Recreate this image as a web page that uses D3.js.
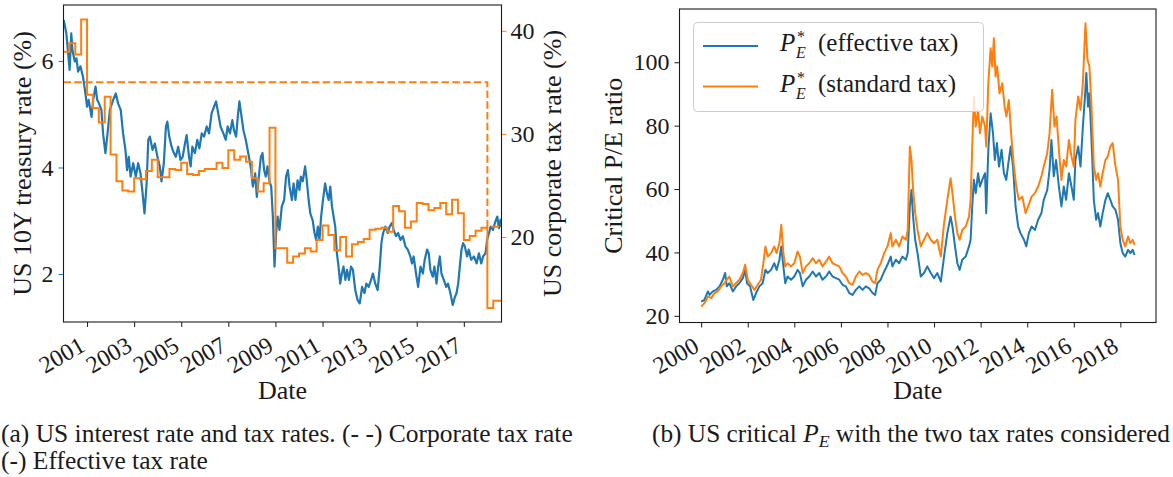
<!DOCTYPE html>
<html>
<head>
<meta charset="utf-8">
<title>US interest rate, tax rates and critical P/E</title>
<script src="https://cdn.jsdelivr.net/npm/d3@7"></script>
<style>
  body { margin: 0; background: #fff; }
  svg text { font-family: "Liberation Serif", "DejaVu Serif", serif; fill: #1a1a1a; }
</style>
</head>
<body>
<svg id="fig" width="1173" height="477"></svg>
<script>
// ---- data (time = years after 2000.0) ----
var leftYears = [2001, 2003, 2005, 2007, 2009, 2011, 2013, 2015, 2017];
var rightYears = [2000, 2002, 2004, 2006, 2008, 2010, 2012, 2014, 2016, 2018];
var rateTicks = [2, 4, 6];
var taxTicks = [20, 30, 40];
var peTicks = [20, 40, 60, 80, 100];

// US 10Y treasury rate (%)
var treasury = [[0.01,6.77],[0.12,6.52],[0.19,6.18],[0.26,5.83],[0.33,6.52],[0.38,6.2],[0.48,5.99],[0.55,6.05],[0.62,5.8],[0.72,5.9],[0.83,5.7],[0.93,5.39],[1.00,5.14],[1.07,5.27],[1.19,4.95],[1.26,5.27],[1.36,5.52],[1.43,5.27],[1.51,5.2],[1.61,5.08],[1.68,4.64],[1.78,4.27],[1.87,4.64],[1.97,5.08],[2.11,5.27],[2.22,5.39],[2.32,5.2],[2.43,5.08],[2.53,4.64],[2.63,4.33],[2.70,3.95],[2.77,4.2],[2.85,3.83],[2.96,4.08],[3.07,3.83],[3.17,4.08],[3.27,3.89],[3.36,3.51],[3.44,3.14],[3.53,3.7],[3.60,4.52],[3.67,4.58],[3.78,4.33],[3.88,4.45],[3.99,4.2],[4.09,4.02],[4.16,3.74],[4.26,4.08],[4.35,4.77],[4.41,4.86],[4.49,4.58],[4.59,4.39],[4.66,4.3],[4.77,4.2],[4.87,4.39],[4.97,4.14],[5.06,4.2],[5.16,4.45],[5.23,4.61],[5.33,4.2],[5.40,4.02],[5.47,4.39],[5.58,4.27],[5.68,4.52],[5.77,4.36],[5.87,4.64],[5.97,4.58],[6.08,4.77],[6.18,4.64],[6.29,5.02],[6.39,5.14],[6.48,5.24],[6.58,4.99],[6.67,4.77],[6.79,4.64],[6.89,4.52],[6.97,4.77],[7.07,4.64],[7.17,4.89],[7.24,4.7],[7.33,4.58],[7.40,4.95],[7.47,5.24],[7.54,5.02],[7.64,4.7],[7.74,4.52],[7.82,4.33],[7.90,4.14],[7.97,3.95],[8.04,3.64],[8.14,3.89],[8.21,3.45],[8.28,3.76],[8.38,4.2],[8.45,4.27],[8.52,3.95],[8.59,3.83],[8.66,4.02],[8.75,3.74],[8.82,3.64],[8.89,3.08],[8.96,2.14],[9.03,2.77],[9.09,3.08],[9.17,2.83],[9.27,3.27],[9.37,3.39],[9.45,3.83],[9.53,3.95],[9.60,3.64],[9.70,3.39],[9.77,3.7],[9.85,3.39],[9.94,3.76],[10.02,3.58],[10.08,3.83],[10.16,3.74],[10.26,4.02],[10.33,3.76],[10.41,3.39],[10.48,3.14],[10.58,3.01],[10.66,2.77],[10.73,2.64],[10.80,2.89],[10.87,2.64],[10.94,3.08],[11.02,3.39],[11.11,3.7],[11.19,3.51],[11.26,3.39],[11.33,3.64],[11.40,3.27],[11.47,3.08],[11.54,2.89],[11.61,2.39],[11.68,2.14],[11.75,1.82],[11.82,2.01],[11.89,2.14],[11.97,1.89],[12.04,2.08],[12.12,1.89],[12.21,2.14],[12.29,2.08],[12.39,1.70],[12.49,1.51],[12.58,1.45],[12.68,1.76],[12.78,1.64],[12.86,1.82],[12.96,1.76],[13.06,1.89],[13.14,2.01],[13.24,1.82],[13.34,1.70],[13.43,2.14],[13.50,2.58],[13.57,2.77],[13.67,2.89],[13.77,2.77],[13.85,2.89],[13.95,2.96],[14.02,2.83],[14.12,2.71],[14.21,2.77],[14.31,2.64],[14.41,2.71],[14.52,2.52],[14.62,2.46],[14.73,2.33],[14.80,2.2],[14.87,2.33],[14.97,2.01],[15.06,1.76],[15.16,2.14],[15.26,2.01],[15.34,2.27],[15.44,2.46],[15.51,2.39],[15.58,2.08],[15.68,1.95],[15.75,2.14],[15.84,1.82],[15.91,2.14],[15.98,2.33],[16.05,2.01],[16.15,1.89],[16.25,1.76],[16.33,1.82],[16.43,1.64],[16.53,1.42],[16.62,1.57],[16.69,1.64],[16.76,1.82],[16.83,2.14],[16.90,2.46],[16.97,2.58],[17.04,2.52],[17.14,2.33],[17.21,2.46],[17.31,2.27],[17.43,2.33],[17.54,2.2],[17.64,2.39],[17.74,2.2],[17.82,2.33],[17.92,2.39],[17.99,2.64],[18.07,2.77],[18.14,2.89],[18.24,2.83],[18.32,2.96],[18.42,3.08],[18.49,2.86],[18.56,3.02],[18.60,2.89]];

// effective tax rate (%), one value per quarter from 2000 Q1
var effectiveTax = [37.96, 38.8, 37.7, 41.1,  33.8, 32.5, 31.1, 33.6,  28.0, 25.4, 24.5, 24.4,
  25.7, 25.6, 26.4, 27.5,  25.8, 25.8, 26.6, 26.5,  27.2, 26.1, 26.0, 26.4,  26.6, 26.6, 27.2, 26.7,
  28.4, 27.5, 27.8, 27.3,  25.7, 24.4, 25.2, 30.6,  18.9, 18.9, 17.5, 18.1,  18.4, 18.9, 18.6, 19.7,
  21.1, 20.2, 18.7, 20.0,  18.1, 19.3, 19.5, 19.8,  20.7, 20.8, 20.9, 20.5,  23.0, 22.5, 20.9, 21.5,
  23.3, 23.2, 22.6, 22.8,  23.3, 22.2, 23.6, 22.3,  19.7, 20.1, 20.6, 20.9,  13.1, 13.8];

// statutory corporate tax rate (%)
var corporateTax = [[0, 35], [18.0, 21], [18.6, 21]];

// critical P/E with effective tax
var peEffective = [[0.00,24.5],[0.14,25.0],[0.29,27.7],[0.36,26.6],[0.50,27.7],[0.64,28.2],[0.79,29.3],[0.93,31.4],[1.03,33.5],[1.10,29.3],[1.21,30.3],[1.36,27.7],[1.50,29.3],[1.64,30.3],[1.79,31.9],[1.89,34.5],[1.97,30.3],[2.10,29.3],[2.24,25.0],[2.36,27.2],[2.50,29.3],[2.64,30.3],[2.76,34.5],[2.86,33.5],[3.00,34.5],[3.14,36.6],[3.24,34.5],[3.36,37.7],[3.44,41.9],[3.53,35.6],[3.61,30.3],[3.71,32.4],[3.86,31.4],[4.00,32.4],[4.14,34.5],[4.24,33.5],[4.36,29.3],[4.50,31.4],[4.64,32.4],[4.79,34.0],[4.93,32.4],[5.07,33.5],[5.21,31.4],[5.36,32.4],[5.50,34.0],[5.64,32.4],[5.79,31.9],[5.93,31.4],[6.07,29.8],[6.21,29.3],[6.36,27.2],[6.50,26.6],[6.64,28.2],[6.79,29.3],[6.93,28.2],[7.07,29.3],[7.21,28.7],[7.36,27.2],[7.47,26.6],[7.57,30.3],[7.71,31.4],[7.86,34.0],[8.00,36.1],[8.14,38.7],[8.21,35.6],[8.36,37.7],[8.50,36.6],[8.64,38.7],[8.79,37.7],[8.87,39.8],[8.96,54.5],[9.03,59.7],[9.10,51.3],[9.19,44.0],[9.29,39.8],[9.43,32.4],[9.57,33.5],[9.71,35.6],[9.86,33.5],[10.00,31.9],[10.14,33.5],[10.29,30.8],[10.43,38.7],[10.57,46.1],[10.71,51.3],[10.79,48.2],[10.90,41.9],[11.00,36.6],[11.10,34.5],[11.21,37.7],[11.36,38.7],[11.50,41.9],[11.57,44.0],[11.64,54.5],[11.71,62.9],[11.79,58.7],[11.89,65.0],[11.97,60.8],[12.07,62.9],[12.19,65.0],[12.24,52.4],[12.33,72.4],[12.43,83.9],[12.53,77.6],[12.61,69.2],[12.70,74.5],[12.79,67.1],[12.90,72.4],[13.00,65.0],[13.10,62.9],[13.19,68.2],[13.29,73.4],[13.39,67.1],[13.50,54.5],[13.61,48.2],[13.71,46.1],[13.86,44.0],[13.96,41.9],[14.07,46.1],[14.19,48.2],[14.33,47.1],[14.47,50.3],[14.61,52.4],[14.71,56.6],[14.86,59.7],[14.96,66.1],[15.04,75.5],[15.14,64.0],[15.24,69.2],[15.36,60.8],[15.47,54.5],[15.57,60.8],[15.67,56.6],[15.79,65.0],[15.90,60.8],[16.00,56.6],[16.07,69.2],[16.19,73.4],[16.29,67.1],[16.39,79.7],[16.47,88.1],[16.54,96.6],[16.61,86.0],[16.67,90.2],[16.76,75.5],[16.86,56.6],[16.96,50.3],[17.04,52.4],[17.14,48.2],[17.24,52.4],[17.36,56.6],[17.46,58.7],[17.57,56.6],[17.67,54.5],[17.79,53.4],[17.90,50.3],[18.00,42.9],[18.10,39.8],[18.21,38.7],[18.33,40.8],[18.43,39.8],[18.53,40.8],[18.61,39.2]];

// critical P/E with standard tax
var peStandard = [[0.00,22.9],[0.14,24.0],[0.29,26.1],[0.43,25.6],[0.57,27.2],[0.71,27.7],[0.86,29.3],[1.00,30.3],[1.10,31.4],[1.21,32.4],[1.36,29.3],[1.50,30.3],[1.64,31.4],[1.79,33.5],[1.89,36.1],[2.00,31.4],[2.14,29.8],[2.29,28.2],[2.43,29.8],[2.57,31.4],[2.67,36.6],[2.76,41.9],[2.86,38.7],[3.00,39.8],[3.14,41.9],[3.24,39.8],[3.36,42.9],[3.44,48.7],[3.53,39.8],[3.61,35.6],[3.71,36.6],[3.86,35.6],[4.00,36.6],[4.14,40.3],[4.24,38.7],[4.36,33.5],[4.50,35.6],[4.64,36.6],[4.79,38.2],[4.93,36.6],[5.07,37.7],[5.21,35.6],[5.36,37.1],[5.50,38.7],[5.64,36.6],[5.79,36.1],[5.93,35.6],[6.07,33.5],[6.21,32.4],[6.36,30.3],[6.50,29.8],[6.64,32.4],[6.79,34.0],[6.93,32.9],[7.07,33.5],[7.21,32.9],[7.36,30.8],[7.47,30.3],[7.57,34.5],[7.71,36.6],[7.86,39.8],[8.00,41.9],[8.14,46.1],[8.21,41.9],[8.36,44.0],[8.50,41.9],[8.64,45.0],[8.79,44.0],[8.87,47.1],[8.96,73.4],[9.03,69.2],[9.10,59.7],[9.19,52.4],[9.29,47.1],[9.43,41.9],[9.57,44.0],[9.71,46.1],[9.86,44.0],[10.00,42.9],[10.14,44.0],[10.29,38.7],[10.43,49.2],[10.57,56.6],[10.71,63.4],[10.79,58.7],[10.90,51.3],[11.00,46.1],[11.10,44.0],[11.21,47.1],[11.36,48.2],[11.50,51.3],[11.57,56.6],[11.64,73.4],[11.71,89.2],[11.79,79.7],[11.89,85.0],[11.97,77.6],[12.07,82.9],[12.19,79.7],[12.24,73.4],[12.33,93.4],[12.43,104.4],[12.50,98.7],[12.57,107.6],[12.64,95.5],[12.71,98.7],[12.81,90.2],[12.93,93.4],[13.03,86.0],[13.11,82.9],[13.21,88.1],[13.33,75.5],[13.43,67.1],[13.53,60.8],[13.64,56.6],[13.79,57.6],[13.93,52.4],[14.04,54.5],[14.19,57.6],[14.33,58.7],[14.47,60.8],[14.61,64.0],[14.71,67.1],[14.86,71.3],[14.96,77.6],[15.07,91.3],[15.17,79.7],[15.26,82.9],[15.36,72.4],[15.47,62.9],[15.57,69.2],[15.67,67.1],[15.79,75.5],[15.90,70.3],[16.00,67.1],[16.07,81.8],[16.19,89.2],[16.29,85.0],[16.39,93.4],[16.50,112.3],[16.59,100.8],[16.67,98.7],[16.76,86.0],[16.86,67.1],[16.96,62.9],[17.04,65.0],[17.14,60.8],[17.24,65.0],[17.36,69.2],[17.46,70.3],[17.57,73.4],[17.67,74.5],[17.79,67.1],[17.90,62.9],[18.00,48.2],[18.10,44.0],[18.21,41.9],[18.33,45.0],[18.43,42.9],[18.53,44.0],[18.61,42.4]];

var legendLabels = ["(effective tax)", "(standard tax)"];

// ---- drawing ----
var BLUE = "#1f77b4", ORANGE = "#ff7f0e", INK = "#1a1a1a";
var svg = d3.select("#fig");

var L = {x0: 63.5, x1: 501.5, y0: 5, y1: 322};     // left panel box
var R = {x0: 679.5, x1: 1156, y0: 9, y1: 322.5};   // right panel box

var xL = d3.scaleLinear().domain([2000, 2018.6]).range([L.x0, L.x1]);
var yRate = d3.scaleLinear().domain([1.10, 7.05]).range([L.y1, L.y0]);
var yTax = d3.scaleLinear().domain([11.75, 42.5]).range([L.y1, L.y0]);
var xR = d3.scaleLinear().domain([1999.07, 2019.53]).range([R.x0, R.x1]);
var yPE = d3.scaleLinear().domain([17.9, 116.8]).range([R.y1, R.y0]);
var intFmt = d3.format("d");

var defs = svg.append("defs");
[["clipL", L], ["clipR", R]].forEach(function (c) {
  defs.append("clipPath").attr("id", c[0]).append("rect")
    .attr("x", c[1].x0).attr("y", c[1].y0)
    .attr("width", c[1].x1 - c[1].x0).attr("height", c[1].y1 - c[1].y0);
});

function styleAxis(g, color, size) {
  g.attr("font-family", null).attr("font-size", null);
  g.select(".domain").remove();
  g.selectAll(".tick line").attr("stroke", color).attr("stroke-width", 1);
  g.selectAll(".tick text").attr("fill", color).style("font-size", size + "px");
}

function rotateTicks(g) {
  g.selectAll(".tick text")
    .attr("text-anchor", "end").attr("x", 0).attr("y", 0).attr("dy", 0)
    .attr("transform", "translate(-1,28) rotate(-30)");
}

// left panel: treasury rate + tax rates
var plotL = svg.append("g").attr("clip-path", "url(#clipL)");
plotL.append("path").datum(treasury)
  .attr("fill", "none").attr("stroke", BLUE).attr("stroke-width", 2.2).attr("stroke-linejoin", "round")
  .attr("d", d3.line().x(function (d) { return xL(2000 + d[0]); }).y(function (d) { return yRate(d[1]); }));

var effPts = effectiveTax.map(function (v, i) { return [i * 0.25, v]; });
effPts.push([18.6, effectiveTax[effectiveTax.length - 1]]);
var taxLine = d3.line().curve(d3.curveStepAfter)
  .x(function (d) { return xL(2000 + d[0]); }).y(function (d) { return yTax(d[1]); });
plotL.append("path").datum(effPts)
  .attr("fill", "none").attr("stroke", ORANGE).attr("stroke-width", 2).attr("d", taxLine);
plotL.append("path").datum(corporateTax)
  .attr("fill", "none").attr("stroke", ORANGE).attr("stroke-width", 2)
  .attr("stroke-dasharray", "7.5,3.3").attr("d", taxLine);

var gxL = svg.append("g").attr("transform", "translate(0," + L.y1 + ")")
  .call(d3.axisBottom(xL).tickValues(leftYears).tickFormat(intFmt).tickSize(5));
styleAxis(gxL, INK, 24); rotateTicks(gxL);
var gyL = svg.append("g").attr("transform", "translate(" + L.x0 + ",0)")
  .call(d3.axisLeft(yRate).tickValues(rateTicks).tickFormat(intFmt).tickSize(5).tickPadding(5));
styleAxis(gyL, BLUE, 24);
var gyT = svg.append("g").attr("transform", "translate(" + L.x1 + ",0)")
  .call(d3.axisRight(yTax).tickValues(taxTicks).tickFormat(intFmt).tickSize(5).tickPadding(4));
styleAxis(gyT, ORANGE, 24);

svg.append("rect").attr("x", L.x0).attr("y", L.y0).attr("width", L.x1 - L.x0).attr("height", L.y1 - L.y0)
  .attr("fill", "none").attr("stroke", INK).attr("stroke-width", 1.1);

// right panel: critical P/E
var plotR = svg.append("g").attr("clip-path", "url(#clipR)");
var peLine = d3.line().x(function (d) { return xR(2000 + d[0]); }).y(function (d) { return yPE(d[1]); });
plotR.append("path").datum(peEffective)
  .attr("fill", "none").attr("stroke", BLUE).attr("stroke-width", 2).attr("stroke-linejoin", "round").attr("d", peLine);
plotR.append("path").datum(peStandard)
  .attr("fill", "none").attr("stroke", ORANGE).attr("stroke-width", 2).attr("stroke-linejoin", "round").attr("d", peLine);

var gxR = svg.append("g").attr("transform", "translate(0," + R.y1 + ")")
  .call(d3.axisBottom(xR).tickValues(rightYears).tickFormat(intFmt).tickSize(5));
styleAxis(gxR, INK, 24); rotateTicks(gxR);
var gyR = svg.append("g").attr("transform", "translate(" + R.x0 + ",0)")
  .call(d3.axisLeft(yPE).tickValues(peTicks).tickFormat(intFmt).tickSize(5).tickPadding(5));
styleAxis(gyR, INK, 24);

svg.append("rect").attr("x", R.x0).attr("y", R.y0).attr("width", R.x1 - R.x0).attr("height", R.y1 - R.y0)
  .attr("fill", "none").attr("stroke", INK).attr("stroke-width", 1.1);

// axis titles
function vLabel(x, y, txt) {
  svg.append("text").attr("transform", "translate(" + x + "," + y + ") rotate(-90)")
    .attr("text-anchor", "middle").attr("dy", "0.35em").style("font-size", "26px").text(txt);
}
vLabel(22, (L.y0 + L.y1) / 2, "US 10Y treasury rate (%)");
vLabel(552, (L.y0 + L.y1) / 2, "US corporate tax rate (%)");
vLabel(613, (R.y0 + R.y1) / 2, "Critical P/E ratio");
svg.append("text").attr("x", (L.x0 + L.x1) / 2).attr("y", 399).attr("text-anchor", "middle")
  .style("font-size", "26px").text("Date");
svg.append("text").attr("x", (R.x0 + R.x1) / 2).attr("y", 399).attr("text-anchor", "middle")
  .style("font-size", "26px").text("Date");

// legend
var lg = svg.append("g");
lg.append("rect").attr("x", 693.5).attr("y", 22.5).attr("width", 290).attr("height", 89).attr("rx", 4)
  .attr("fill", "#fff").attr("fill-opacity", 0.8).attr("stroke", "#cccccc");
[BLUE, ORANGE].forEach(function (c, i) {
  var y = 46 + i * 40.5;
  lg.append("line").attr("x1", 703).attr("x2", 758).attr("y1", y).attr("y2", y)
    .attr("stroke", c).attr("stroke-width", 2);
  // P with a starred superscript and an E subscript, then the label
  lg.append("text").attr("x", 780).attr("y", y + 5).style("font-size", "25px")
    .style("font-style", "italic").text("P");
  lg.append("text").attr("x", 797).attr("y", y - 4).style("font-size", "16px").text("*");
  lg.append("text").attr("x", 796).attr("y", y + 12).style("font-size", "16px")
    .style("font-style", "italic").text("E");
  lg.append("text").attr("x", 818).attr("y", y + 5).style("font-size", "25px").text(legendLabels[i]);
});

// captions
function fitWidth(sel, w) {
  var len = sel.node().getComputedTextLength();
  var fs = parseFloat(sel.style("font-size"));
  sel.style("font-size", (fs * w / len) + "px");
  return fs * w / len;
}
var capA = svg.append("text").attr("x", 1).attr("y", 442).style("font-size", "20px")
  .text("(a) US interest rate and tax rates. (- -) Corporate tax rate");
var capSize = fitWidth(capA, 572);
svg.append("text").attr("x", 1).attr("y", 469).style("font-size", capSize + "px").text("(-) Effective tax rate");

var capB = svg.append("text").attr("x", 652).attr("y", 442).style("font-size", "20px");
capB.append("tspan").text("(b) US critical ");
capB.append("tspan").style("font-style", "italic").text("P");
var capBsub = capB.append("tspan").attr("dy", 5).style("font-style", "italic").style("font-size", "14px").text("E");
capB.append("tspan").attr("dy", -5).text(" with the two tax rates considered");
var bSize = fitWidth(capB, 518);
capBsub.style("font-size", (bSize * 0.7) + "px");
</script>
</body>
</html>
